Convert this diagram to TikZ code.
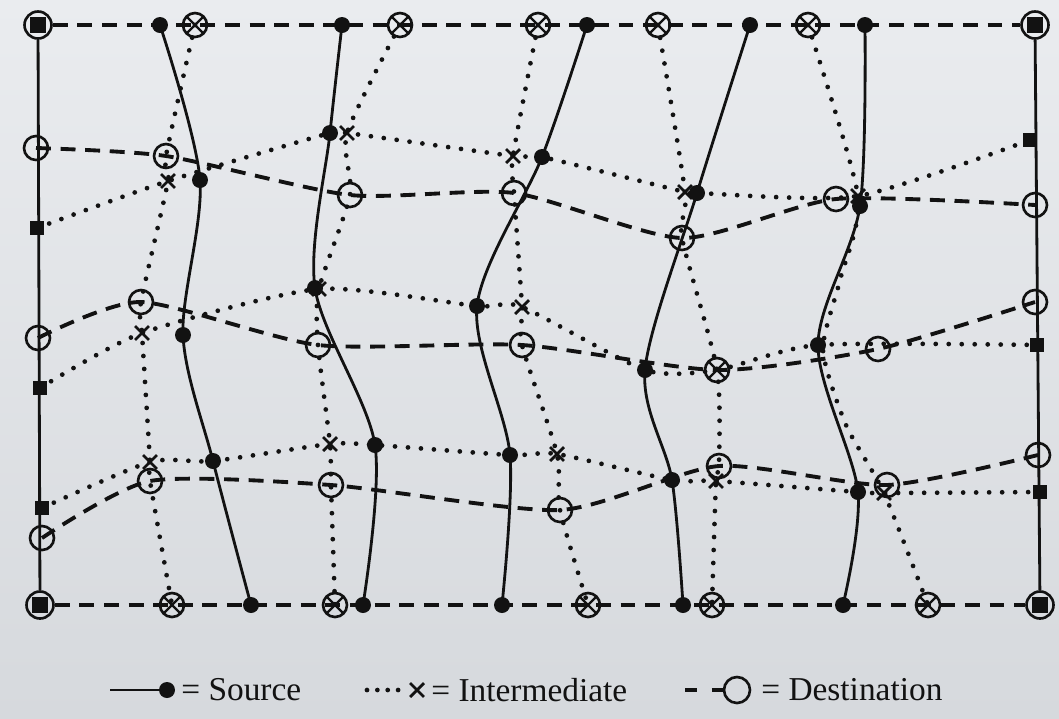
\documentclass[tikz,border=0pt]{standalone}
\usepackage{fontspec}
\setmainfont{Liberation Serif}
\usetikzlibrary{shapes.misc,backgrounds}

\definecolor{ink}{RGB}{18,18,18}
\definecolor{paperhigh}{RGB}{234,236,239}
\definecolor{paperlow}{RGB}{214,217,221}

\begin{document}
\begin{tikzpicture}[
  x=0.02cm, y=-0.02cm,
  srcdot/.style={circle,fill=ink,inner sep=0pt,minimum size=0.32cm},
  midx/.style={cross out,draw=ink,line width=1.6pt,inner sep=0pt,minimum size=0.22cm},
  dstring/.style={circle,draw=ink,line width=1.5pt,inner sep=0pt,minimum size=0.48cm},
  bothring/.style={dstring,path picture={
    \draw[ink,line width=1.3pt]
      (path picture bounding box.south west) -- (path picture bounding box.north east)
      (path picture bounding box.north west) -- (path picture bounding box.south east);}},
  cornerring/.style={dstring,minimum size=0.54cm,path picture={
    \fill[ink] (path picture bounding box.center) ++(-0.16cm,-0.16cm) rectangle ++(0.32cm,0.32cm);}},
  sqr/.style={rectangle,fill=ink,inner sep=0pt,minimum size=0.27cm},
  srcline/.style={ink,line width=1.6pt},
  dstline/.style={ink,line width=2.2pt,dash pattern=on 8.5pt off 5.5pt},
  midline/.style={ink,line width=2.7pt,line cap=round,dash pattern=on 0pt off 7.4pt},
  legend/.style={anchor=west,inner sep=0pt,text=ink,font=\fontsize{19}{21}\selectfont}
]
\useasboundingbox (0,0) rectangle (1059,718);

%--------------------
% boundary
%--------------------
\node[cornerring] (c1) at (38,25) {};
\node[cornerring] (c2) at (1035,25) {};
\node[cornerring] (c3) at (40,605) {};
\node[cornerring] (c4) at (1040,605) {};

% top and bottom ends
\foreach \n/\p in {s1t/160,s2t/342,s3t/587,s4t/750,s5t/865}
  \node[srcdot] (\n) at (\p,25) {};
\foreach \n/\p in {v1t/195,v2t/400,v3t/538,v4t/658,v5t/808}
  \node[bothring] (\n) at (\p,25) {};
\foreach \n/\p in {s1b/251,s2b/363,s3b/502,s4b/683,s5b/843}
  \node[srcdot] (\n) at (\p,605) {};
\foreach \n/\p in {v1b/172,v2b/335,v3b/588,v4b/712,v5b/928}
  \node[bothring] (\n) at (\p,605) {};

% left and right sides
\node[dstring] (dl1) at (36,148) {};
\node[sqr] (il1) at (37,228) {};
\node[dstring] (dl2) at (38,338) {};
\node[sqr] (il2) at (40,388) {};
\node[sqr] (il3) at (42,508) {};
\node[dstring] (dl3) at (42,538) {};
\node[sqr] (ir1) at (1030,140) {};
\node[dstring] (dr1) at (1035,205) {};
\node[dstring] (dr2) at (1035,302) {};
\node[sqr] (ir2) at (1037,345) {};
\node[dstring] (dr3) at (1038,455) {};
\node[sqr] (ir3) at (1040,492) {};

%--------------------
% inner points
%--------------------
% source
\foreach \n/\x/\y in {s11/200/180,s12/183/335,s13/213/461,
                      s21/330/133,s22/315/288,s23/375/445,
                      s31/542/157,s32/477/306,s33/510/455,
                      s41/697/193,s42/645/370,s43/672/480,
                      s51/860/206,s52/818/345,s53/858/492}
  \node[srcdot] (\n) at (\x,\y) {};

% intermediate
\foreach \n/\x/\y in {x11/168/181,x12/142/333,x13/150/462,
                      x21/347/133,x22/319/289,x23/330/444,
                      x31/513/156,x32/522/307,x33/557/454,
                      x41/685/192,x43/716/481,
                      x51/858/196,x53/884/493}
  \node[midx] (\n) at (\x,\y) {};

% destination
\foreach \n/\x/\y in {d11/166/156,d12/141/302,d13/150/481,
                      d21/350/195,d22/318/345,d23/331/485,
                      d31/514/193,d32/522/345,d33/560/510,
                      d41/682/238,d43/719/466,
                      d51/836/199,d52/878/349,d53/887/485}
  \node[dstring] (\n) at (\x,\y) {};
\node[bothring] (b42) at (717,370) {};

% bends of the fifth dotted line
\coordinate (q51) at (840,280);
\coordinate (q52) at (823,350);
\coordinate (q53) at (846,425);

%--------------------
% lines
%--------------------
\begin{pgfonlayer}{background}
  \shade[top color=paperhigh,bottom color=paperlow] (0,0) rectangle (1059,718);

  % frame
  \draw[dstline] (c1) -- (c2);
  \draw[dstline] (c3) -- (c4);
  \draw[srcline] (c1) -- (c3);
  \draw[srcline] (c2) -- (c4);

  % source
  \draw[srcline] plot[smooth,tension=0.5] coordinates {(s1t) (s11) (s12) (s13) (s1b)};
  \draw[srcline] plot[smooth,tension=0.5] coordinates {(s2t) (s21) (s22) (s23) (s2b)};
  \draw[srcline] plot[smooth,tension=0.5] coordinates {(s3t) (s31) (s32) (s33) (s3b)};
  \draw[srcline] plot[smooth,tension=0.5] coordinates {(s4t) (s41) (s42) (s43) (s4b)};
  \draw[srcline] plot[smooth,tension=0.5] coordinates {(s5t) (s51) (s52) (s53) (s5b)};

  % intermediate, down
  \draw[midline] plot[smooth,tension=0.4] coordinates {(v1t) (d11) (x11) (d12) (x12) (x13) (d13) (v1b)};
  \draw[midline] plot[smooth,tension=0.4] coordinates {(v2t) (x21) (d21) (x22) (d22) (x23) (d23) (v2b)};
  \draw[midline] plot[smooth,tension=0.4] coordinates {(v3t) (x31) (d31) (x32) (d32) (x33) (d33) (v3b)};
  \draw[midline] plot[smooth,tension=0.4] coordinates {(v4t) (x41) (d41) (b42) (d43) (x43) (v4b)};
  \draw[midline] plot[smooth,tension=0.4] coordinates {(v5t) (x51) (q51) (q52) (q53) (x53) (v5b)};

  % intermediate, across
  \draw[midline] plot[smooth,tension=0.4] coordinates {(il1) (x11) (s21) (x21) (x31) (s31) (x41) (s41) (x51) (ir1)};
  \draw[midline] plot[smooth,tension=0.4] coordinates {(il2) (x12) (x22) (s32) (x32) (s42) (b42) (s52) (ir2)};
  \draw[midline] plot[smooth,tension=0.4] coordinates {(il3) (x13) (s13) (x23) (s23) (s33) (x33) (s43) (x43) (s53) (x53) (ir3)};

  % destination
  \draw[dstline] plot[smooth,tension=0.4] coordinates {(dl1) (d11) (d21) (d31) (d41) (d51) (dr1)};
  \draw[dstline] plot[smooth,tension=0.4] coordinates {(dl2) (d12) (d22) (d32) (b42) (d52) (dr2)};
  \draw[dstline] plot[smooth,tension=0.4] coordinates {(dl3) (d13) (d23) (d33) (d43) (d53) (dr3)};
\end{pgfonlayer}

%--------------------
% legend
%--------------------
\coordinate (lg1) at (110,690);
\node[srcdot] (lgsrc) at (167,690) {};
\draw[srcline] (lg1) -- (lgsrc);
\node[legend] (lgsrct) at (181,690) {= Source};

\coordinate (lg2) at (367,690);
\coordinate (lg3) at (400,690);
\node[midx] (lgmid) at (417,690) {};
\draw[midline,dash pattern=on 0pt off 5.9pt] (lg2) -- (lg3);
\node[legend] (lgmidt) at (431,690) {= Intermediate};

\coordinate (lg4) at (685,690);
\node[dstring,minimum size=0.52cm] (lgdst) at (737,690) {};
\draw[dstline,dash pattern=on 6.8pt off 8.5pt] (lg4) -- (lgdst);
\node[legend] (lgdstt) at (761,690) {= Destination};

\end{tikzpicture}
\end{document}
